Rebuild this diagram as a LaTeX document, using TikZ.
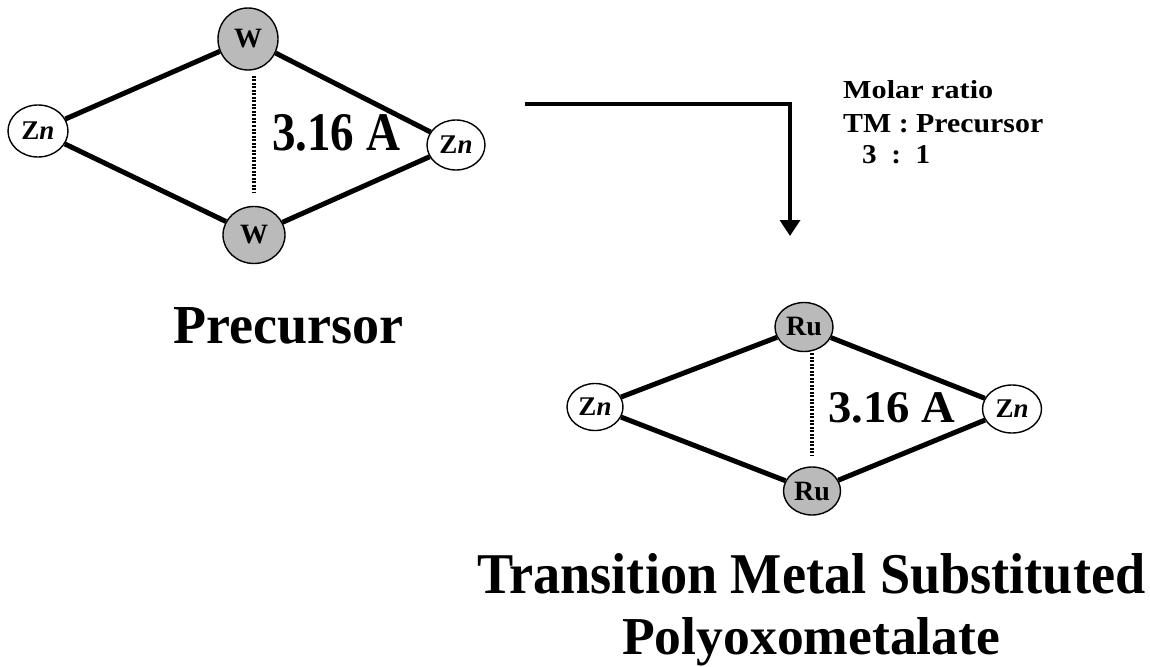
\documentclass[tikz,border=0pt]{standalone}
\usepackage{fontspec}
\setmainfont{Liberation Serif}
\usepackage{graphicx}
\usetikzlibrary{shapes.geometric,arrows.meta}
\begin{document}
\begin{tikzpicture}[x=1pt,y=-1pt,
  atom/.style={ellipse,draw=black,line width=1.4pt,inner sep=0pt},
  heavy/.style={atom,fill=black!27},
  light/.style={atom,fill=white},
  bond/.style={line width=5pt},
  dotline/.style={line width=3.5pt,dash pattern=on 2pt off 1.5pt},
  arrowline/.style={line width=3.5pt,-{Triangle[width=20pt,length=16pt]}},
  lbl/.style={anchor=base west,inner sep=0pt,font=\bfseries},
  wfont/.style={font=\bfseries\fontsize{28}{28}\selectfont},
  znfont/.style={font=\bfseries\fontsize{27}{27}\selectfont},
  rufont/.style={font=\bfseries\fontsize{28}{28}\selectfont},
]
\useasboundingbox (0,0) rectangle (1150,666);
% ---- precursor diamond
\node[heavy,wfont,minimum width=60pt,minimum height=62pt] (wt) at (248,39) {W};
\node[heavy,wfont,minimum width=62pt,minimum height=57pt] (wb) at (254,235) {W};
\node[light,znfont,minimum width=60pt,minimum height=52pt] (zl) at (38,131) {Z\textit{n}};
\node[light,znfont,minimum width=58pt,minimum height=50pt] (zr) at (456,145) {Z\textit{n}};
\draw[bond] (wt) -- (zl);
\draw[bond] (wt) -- (zr);
\draw[bond] (wb) -- (zl);
\draw[bond] (wb) -- (zr);
\coordinate (da) at (254,76);
\coordinate (db) at (254,192);
\draw[dotline] (da) -- (db);
\node[lbl] (d1) at (272,150) {\resizebox{128pt}{36pt}{3.16 A}};
\node[lbl] (prec) at (173,343) {\resizebox{230pt}{36pt}{Precursor}};
% ---- arrow
\coordinate (a0) at (525,104);
\coordinate (a1) at (790,104);
\coordinate (a2) at (790,236);
\draw[arrowline] (a0) -- (a1) -- (a2);
\node[lbl] (m1) at (843,99) {\resizebox{150pt}{18pt}{Molar ratio}};
\node[lbl] (m2) at (843,132) {\resizebox{200pt}{18pt}{TM : Precursor}};
\node[lbl] (m3) at (862,163) {\resizebox{68pt}{18pt}{3~~:~~1}};
% ---- substituted diamond
\node[heavy,rufont,minimum width=58pt,minimum height=49pt] (rt) at (804,327) {Ru};
\node[heavy,rufont,minimum width=57pt,minimum height=48pt] (rb) at (812,491) {Ru};
\node[light,znfont,minimum width=56pt,minimum height=47pt] (yl) at (595,407) {Z\textit{n}};
\node[light,znfont,minimum width=59pt,minimum height=48pt] (yr) at (1012,409) {Z\textit{n}};
\draw[bond] (rt) -- (yl);
\draw[bond] (rt) -- (yr);
\draw[bond] (rb) -- (yl);
\draw[bond] (rb) -- (yr);
\coordinate (dc) at (812,353);
\coordinate (dd) at (812,455);
\draw[dotline] (dc) -- (dd);
\node[lbl] (d2) at (828,422) {\resizebox{127pt}{30pt}{3.16 A}};
\node[lbl] (t1) at (477,593) {\resizebox{668pt}{40pt}{Transition Metal Substituted}};
\node[lbl] (t2) at (622,654) {\resizebox{378pt}{37pt}{Polyoxometalate}};
\end{tikzpicture}
\end{document}
